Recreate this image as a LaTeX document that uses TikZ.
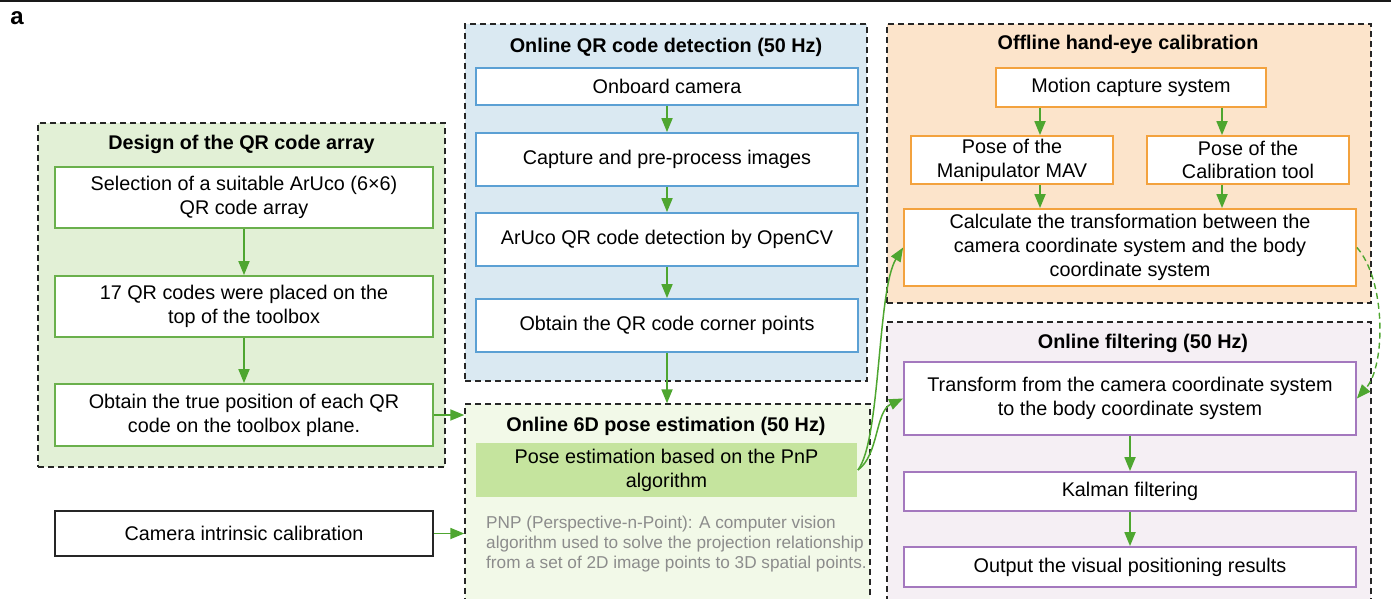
\documentclass[tikz,border=0pt]{standalone}
\usepackage{fontspec}
\setmainfont{Liberation Sans}
\usetikzlibrary{arrows.meta}
\definecolor{garrow}{RGB}{78,166,48}
\definecolor{pgfill}{RGB}{226,240,214}
\definecolor{gborder}{RGB}{106,176,76}
\definecolor{bfill}{RGB}{218,233,242}
\definecolor{bborder}{RGB}{91,160,212}
\definecolor{ylfill}{RGB}{242,249,232}
\definecolor{pnpfill}{RGB}{197,228,158}
\definecolor{ofill}{RGB}{252,228,203}
\definecolor{oborder}{RGB}{243,162,62}
\definecolor{pfill}{RGB}{245,239,244}
\definecolor{pborder}{RGB}{164,120,190}
\definecolor{graytext}{RGB}{140,140,140}
\begin{document}
\begin{tikzpicture}[x=1pt,y=-1pt,
  panel/.style={draw=black!85,dashed,dash pattern=on 6pt off 4pt,line width=1.4pt,inner sep=0,minimum width=#1},
  boxn/.style={draw,line width=1.8pt,fill=white,align=center,inner sep=0,
     font=\fontsize{19.8}{23.8}\selectfont},
  ttl/.style={font=\fontsize{19.8}{23.8}\selectfont\bfseries,inner sep=0},
  arr/.style={garrow,line width=1.8pt,-{Triangle[length=14pt,width=11pt]}},
]
\clip (0,0) rectangle (1399,599);
% top rule
\coordinate (tl) at (0,1);
\coordinate (tr) at (1391,1);
\draw[line width=2pt,black!90] (tl) -- (tr);
\node[font=\fontsize{24}{28}\selectfont\bfseries,inner sep=0] (lbl) at (17,18) {a};

% panels
\node[panel=407pt,minimum height=344pt,fill=pgfill] (p1) at (241.5,295) {};
\node[panel=402pt,minimum height=357pt,fill=bfill] (p2) at (666,202.5) {};
\node[panel=405pt,minimum height=216pt,fill=ylfill] (p3) at (667.5,512) {};
\node[panel=484pt,minimum height=279pt,fill=ofill] (p4) at (1129,163.5) {};
\node[panel=484pt,minimum height=298pt,fill=pfill] (p5) at (1129,471) {};

% titles
\node[ttl] (t1) at (241.5,144) {Design of the QR code array};
\node[ttl] (t2) at (666,47.5) {Online QR code detection (50 Hz)};
\node[ttl] (t3) at (666,426) {Online 6D pose estimation (50 Hz)};
\node[ttl] (t4) at (1128,44) {Offline hand-eye calibration};
\node[ttl] (t5) at (1143,343) {Online filtering (50 Hz)};

% panel 1 boxes
\begin{scope}[every node/.append style={boxn,draw=gborder,minimum width=378pt}]
\node[minimum height=61pt] (b1) at (244,197.5) {Selection of a suitable ArUco (6×6)\\QR code array};
\node[minimum height=61pt] (b2) at (244,306.5) {17 QR codes were placed on the\\top of the toolbox};
\node[minimum height=62pt] (b3) at (244,415) {Obtain the true position of each QR\\code on the toolbox plane.};
\end{scope}
\node[boxn,draw=black!85,minimum width=378pt,minimum height=45pt] (cam) at (244,533.5) {Camera intrinsic calibration};

% panel 2 boxes
\begin{scope}[every node/.append style={boxn,draw=bborder,minimum width=382pt}]
\node[minimum height=37pt] (q1) at (667,86.5) {Onboard camera};
\node[minimum height=53pt] (q2) at (667,159.5) {Capture and pre-process images};
\node[minimum height=53pt] (q3) at (667,239.5) {ArUco QR code detection by OpenCV};
\node[minimum height=53pt] (q4) at (667,325.5) {Obtain the QR code corner points};
\end{scope}

% panel 3
\node[boxn,draw=none,fill=pnpfill,minimum width=381pt,minimum height=54pt] (pnp) at (666.5,470) {Pose estimation based on the PnP\\algorithm};
\node[anchor=west,inner sep=0,align=left,text=graytext,font=\fontsize{17.2}{20}\selectfont] (pnpnote) at (486,544)
 {PNP (Perspective-n-Point): A computer vision\\algorithm used to solve the projection relationship\\from a set of 2D image points to 3D spatial points.};

% panel 4 boxes
\begin{scope}[every node/.append style={boxn,draw=oborder}]
\node[minimum width=270pt,minimum height=39pt] (mc) at (1131,87.5) {Motion capture system};
\node[minimum width=202pt,minimum height=48pt] (pm) at (1012,160) {Pose of the\\Manipulator MAV};
\node[minimum width=202pt,minimum height=48pt] (pc) at (1248,160) {Pose of the\\Calibration tool};
\node[minimum width=452pt,minimum height=77pt] (calc) at (1130,247.5) {Calculate the transformation between the\\camera coordinate system and the body\\coordinate system};
\end{scope}

% panel 5 boxes
\begin{scope}[every node/.append style={boxn,draw=pborder,minimum width=452pt}]
\node[minimum height=73pt] (trn) at (1130,398.5) {Transform from the camera coordinate system\\to the body coordinate system};
\node[minimum height=39pt] (kf) at (1130,491.5) {Kalman filtering};
\node[minimum height=40pt] (outr) at (1130,567) {Output the visual positioning results};
\end{scope}

% arrows
\draw[arr] (b1) -- (b2);
\draw[arr] (b2) -- (b3);
\draw[arr] (q1) -- (q2);
\draw[arr] (q2) -- (q3);
\draw[arr] (q3) -- (q4);
\draw[arr] (q4.south) -- (q4.south |- p3.north);
\draw[arr] (b3.east) -- (b3.east -| p3.west);
\draw[arr] (cam.east) -- (cam.east -| p3.west);
\coordinate (xa) at (1040,0);
\coordinate (xb) at (1222,0);
\draw[arr] (xa |- mc.south) -- (xa |- pm.north);
\draw[arr] (xb |- mc.south) -- (xb |- pc.north);
\draw[arr] (xa |- pm.south) -- (xa |- calc.north);
\draw[arr] (xb |- pc.south) -- (xb |- calc.north);
\draw[arr] (trn) -- (kf);
\draw[arr] (kf) -- (outr);
\draw[arr,line width=1.5pt] (pnp.east) .. controls +(23,-30) and +(-26,42) .. (calc.west);
\draw[arr,line width=1.5pt] (pnp.east) .. controls +(21,-15) and +(-28,13) .. (trn.west);
\draw[arr,line width=1.4pt,dash pattern=on 6pt off 4pt] (calc.east) .. controls +(29,33) and +(29,-33) .. (trn.east);
\end{tikzpicture}
\end{document}
